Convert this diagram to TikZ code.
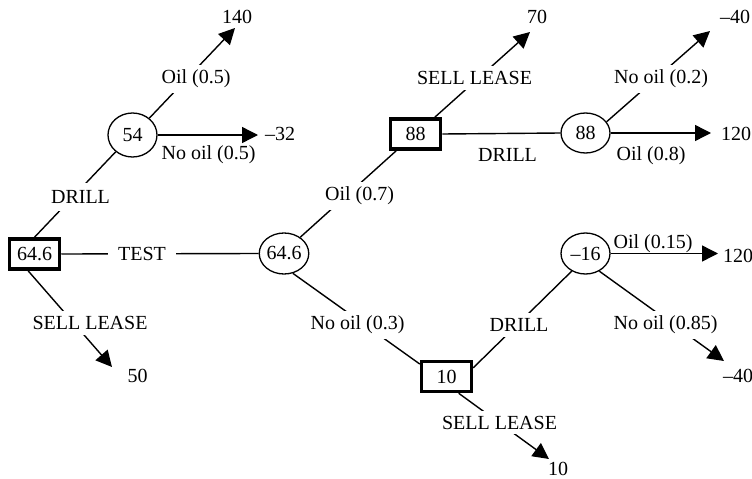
\documentclass[tikz,border=0pt]{standalone}
\usepackage{fontspec}
\setmainfont{Liberation Serif}
\usetikzlibrary{arrows.meta,shapes.geometric}
\begin{document}
\begin{tikzpicture}[x=1pt,y=-1pt,
  font=\fontsize{20}{24}\selectfont,
  decision/.style={draw,line width=3.5pt,minimum width=50pt,minimum height=30pt,inner sep=0pt},
  chance/.style={draw,ellipse,line width=1.3pt,minimum width=49pt,minimum height=41pt,inner sep=0pt},
  branch/.style={line width=1.4pt},
  payoff/.style={branch,-{Triangle[length=16pt,width=16pt]}},
  cutlabel/.style={fill=white,inner sep=5pt},
  freelabel/.style={inner sep=0pt},
  val/.style={inner sep=0pt}]
\useasboundingbox (0,0) rectangle (752,479);

% decision (square) and chance (ellipse) nodes
\node[decision] (d1) at (34.5,254) {64.6};
\node[chance,minimum height=44pt] (c1) at (132.5,135) {54};
\node[chance] (c2) at (284,253.5) {64.6};
\node[decision] (d2) at (415.5,134) {88};
\node[chance,minimum height=40pt] (c3) at (585.5,133) {88};
\node[decision] (d3) at (446.5,376.5) {10};
\node[chance] (c4) at (585.5,253.5) {--16};

% arrow tips of the terminal branches
\coordinate (t140) at (235,28);
\coordinate (tm32) at (258,135);
\coordinate (t50) at (112,367);
\coordinate (t70) at (530,32);
\coordinate (tm40a) at (710,31);
\coordinate (t120a) at (711,133);
\coordinate (t120b) at (718,253.5);
\coordinate (tm40b) at (724,361);
\coordinate (t10) at (549,459);

% branches
\draw[branch] (d1.north) -- (c1.225);
\draw[payoff] (c1.45) -- (t140);
\draw[payoff] (c1.east) -- (tm32);
\draw[branch] (d1.east) -- (c2.west);
\draw[payoff] (d1.249) -- (t50);
\draw[branch] (c2.45) -- (d2.221);
\draw[payoff] (d2.41) -- (t70);
\draw[branch] (d2.east) -- (c3.west);
\draw[payoff] (c3.east) -- (t120a);
\draw[payoff] (c3.28) -- (tm40a);
\draw[branch] (c2.-66) -- (d3.155);
\draw[branch] (d3.18) -- (c4.232);
\draw[payoff] (c4.east) -- (t120b);
\draw[payoff] (c4.-52) -- (tm40b);
\draw[payoff] (d3.-54) -- (t10);

% branch labels
\node[cutlabel,inner sep=7pt] (lDrillA) at (80.5,197) {DRILL};
\node[cutlabel] (lOil05) at (196,79) {Oil (0.5)};
\node[freelabel] (lNoOil05) at (208.5,155) {No oil (0.5)};
\node[cutlabel,inner xsep=10pt] (lTest) at (142,254) {TEST};
\node[cutlabel] (lSellA) at (90,323) {SELL LEASE};
\node[cutlabel] (lOil07) at (359.5,196) {Oil (0.7)};
\node[cutlabel] (lSellB) at (474.5,78) {SELL LEASE};
\node[freelabel] (lDrillB) at (507.5,155) {DRILL};
\node[freelabel] (lOil08) at (651,156) {Oil (0.8)};
\node[cutlabel] (lNoOil02) at (661,79) {No oil (0.2)};
\node[cutlabel] (lNoOil03) at (357.5,325) {No oil (0.3)};
\node[cutlabel] (lDrillC) at (519,325) {DRILL};
\node[freelabel] (lOil015) at (653,243.5) {Oil (0.15)};
\node[cutlabel] (lNoOil085) at (665.5,325) {No oil (0.85)};
\node[cutlabel] (lSellC) at (499.5,422.5) {SELL LEASE};

% payoffs
\node[val] (v140) at (237,17) {140};
\node[val] (vm32) at (280,134) {--32};
\node[val] (v50) at (137.5,375.5) {50};
\node[val] (v70) at (537,17) {70};
\node[val] (vm40a) at (735,17) {--40};
\node[val] (v120a) at (736,134) {120};
\node[val] (v120b) at (738,256) {120};
\node[val] (vm40b) at (738,376) {--40};
\node[val] (v10) at (558,469) {10};
\end{tikzpicture}
\end{document}
